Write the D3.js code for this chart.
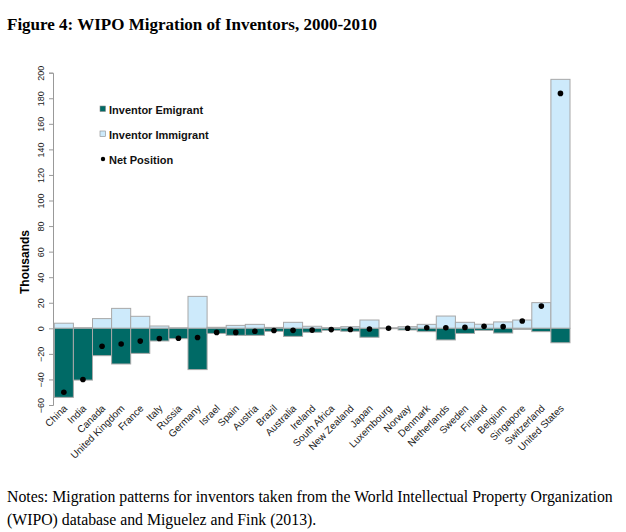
<!DOCTYPE html>
<html>
<head>
<meta charset="utf-8">
<script src="https://cdn.jsdelivr.net/npm/d3@7"></script>
<style>
  body { margin: 0; background: #fff; }
  svg { display: block; }
</style>
</head>
<body>
<script>
// data (thousands of inventors)
var countries = ["China", "India", "Canada", "United Kingdom", "France", "Italy", "Russia", "Germany",
  "Israel", "Spain", "Austria", "Brazil", "Australia", "Ireland", "South Africa", "New Zealand",
  "Japan", "Luxembourg", "Norway", "Denmark", "Netherlands", "Sweden", "Finland", "Belgium",
  "Singapore", "Switzerland", "United States"];
var immigrant = [4, 0.5, 7.6, 15.6, 9.4, 1.8, 0.4, 25, 0.8, 2.3, 3.1, 0.7, 4.7, 1.6, 0.5, 1.3,
  6.5, 0.4, 1.3, 3.1, 9.6, 4.7, 3.2, 5.0, 6.5, 20.1, 194.8];
var emigrant = [54, 40.5, 21.4, 27.9, 19.6, 9.9, 8.1, 32.3, 4, 5.5, 5.5, 2.4, 6.3, 3.1, 1.6, 2.3,
  7.0, 0.3, 1.3, 2.6, 9.1, 4.0, 1.6, 3.7, 0.8, 2.6, 11.3];
var netPosition = [-50, -40, -14, -12.3, -10, -8, -7.8, -7.2, -3.2, -3.2, -2.3, -1.7, -1.6, -1.4,
  -1.0, -0.9, -0.5, 0.1, 0, 0.5, 0.5, 0.7, 1.6, 1.3, 5.7, 17.4, 183.8];
var yTicks = [-60, -40, -20, 0, 20, 40, 60, 80, 100, 120, 140, 160, 180, 200];

var W = 626, H = 532;
var svg = d3.select("body").append("svg").attr("width", W).attr("height", H);

svg.append("text")
  .attr("x", 7).attr("y", 30)
  .attr("font-family", "Liberation Serif, serif")
  .attr("font-weight", "bold")
  .attr("font-size", "17px")
  .text("Figure 4: WIPO Migration of Inventors, 2000-2010");

var x = d3.scaleBand().domain(countries).range([54.3, 570]).padding(0);
var y = d3.scaleLinear().domain([-60, 200]).range([405, 72.7]);

var g = svg.append("g");

// y axis
var yAxis = d3.axisLeft(y).tickValues(yTicks).tickSize(4).tickFormat(d3.format("d"));
var ya = g.append("g").attr("transform", "translate(53,0)").call(yAxis);
ya.select(".domain").attr("stroke", "#999");
ya.selectAll(".tick line").attr("stroke", "#999");
ya.selectAll(".tick text")
  .attr("font-family", "Liberation Sans, Arial, sans-serif")
  .attr("font-size", "9px")
  .attr("fill", "#222")
  .attr("transform", "rotate(-90)")
  .attr("x", 0).attr("y", -9)
  .attr("dy", "0")
  .attr("text-anchor", "middle");

g.append("text")
  .attr("transform", "translate(29,262) rotate(-90)")
  .attr("text-anchor", "middle")
  .attr("font-family", "Liberation Sans, Arial, sans-serif")
  .attr("font-weight", "bold")
  .attr("font-size", "12px")
  .text("Thousands");

// bars
g.selectAll("rect.imm")
  .data(countries)
  .enter().append("rect")
  .attr("class", "imm")
  .attr("x", function (d) { return x(d); })
  .attr("width", x.bandwidth())
  .attr("y", function (d, i) { return y(immigrant[i]); })
  .attr("height", function (d, i) { return y(0) - y(immigrant[i]); })
  .attr("fill", "#cdeafb")
  .attr("stroke", "#a8a8a8")
  .attr("stroke-width", 1);

g.selectAll("rect.emi")
  .data(countries)
  .enter().append("rect")
  .attr("class", "emi")
  .attr("x", function (d) { return x(d); })
  .attr("width", x.bandwidth())
  .attr("y", y(0))
  .attr("height", function (d, i) { return y(-emigrant[i]) - y(0); })
  .attr("fill", "#006a66")
  .attr("stroke", "#a8a8a8")
  .attr("stroke-width", 1);

g.selectAll("circle.net")
  .data(countries)
  .enter().append("circle")
  .attr("class", "net")
  .attr("cx", function (d) { return x(d) + x.bandwidth() / 2; })
  .attr("cy", function (d, i) { return y(netPosition[i]); })
  .attr("r", 2.8)
  .attr("fill", "#000");

// category labels
g.selectAll("text.cat")
  .data(countries)
  .enter().append("text")
  .attr("class", "cat")
  .attr("text-anchor", "end")
  .attr("font-family", "Liberation Sans, Arial, sans-serif")
  .attr("font-size", "10px")
  .attr("fill", "#222")
  .attr("transform", function (d) {
    return "translate(" + (x(d) + x.bandwidth() / 2 + 4) + ",409) rotate(-45)";
  })
  .text(function (d) { return d; });

// legend
var legend = [
  { label: "Inventor Emigrant", type: "sq", fill: "#006a66" },
  { label: "Inventor Immigrant", type: "sq", fill: "#cdeafb" },
  { label: "Net Position", type: "dot", fill: "#000" }
];
var lg = g.selectAll("g.leg").data(legend).enter().append("g")
  .attr("transform", function (d, i) { return "translate(100," + (110 + i * 25) + ")"; });
lg.filter(function (d) { return d.type == "sq"; }).append("rect")
  .attr("x", 0).attr("y", -4).attr("width", 5.5).attr("height", 5.5)
  .attr("fill", function (d) { return d.fill; })
  .attr("stroke", "#888").attr("stroke-width", 0.6);
lg.filter(function (d) { return d.type == "dot"; }).append("circle")
  .attr("cx", 3).attr("cy", -1).attr("r", 2.2).attr("fill", "#000");
lg.append("text")
  .attr("x", 9).attr("y", 3.5)
  .attr("font-family", "Liberation Sans, Arial, sans-serif")
  .attr("font-weight", "bold")
  .attr("font-size", "11px")
  .attr("fill", "#111")
  .text(function (d) { return d.label; });

// notes
svg.append("text")
  .attr("x", 7).attr("y", 502)
  .attr("font-family", "Liberation Serif, serif")
  .attr("font-size", "15.8px")
  .text("Notes: Migration patterns for inventors taken from the World Intellectual Property Organization");
svg.append("text")
  .attr("x", 7).attr("y", 525)
  .attr("font-family", "Liberation Serif, serif")
  .attr("font-size", "15.8px")
  .text("(WIPO) database and Miguelez and Fink (2013).");
</script>
</body>
</html>
